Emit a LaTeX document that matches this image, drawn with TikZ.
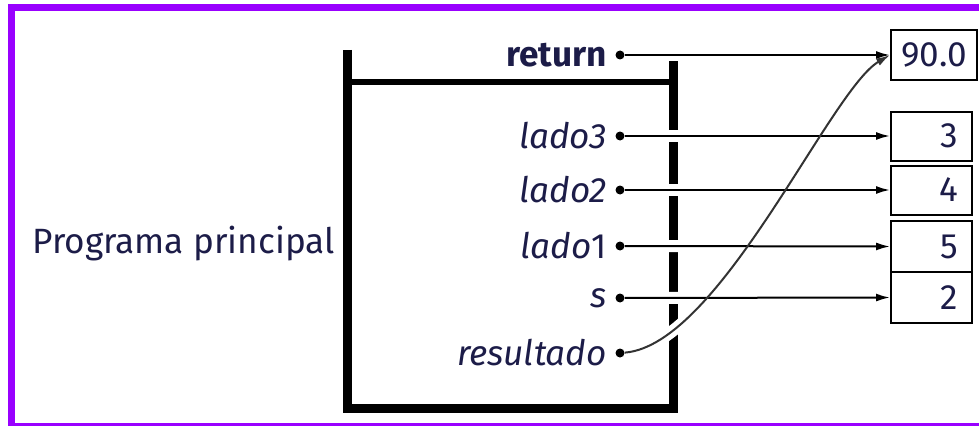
\documentclass[tikz,border=0pt]{standalone}
\usepackage{fontspec}
\setsansfont{Fira Sans}
\usetikzlibrary{arrows.meta,positioning}

\definecolor{ink}{RGB}{28,28,72}
\definecolor{violeta}{RGB}{153,0,255}

\tikzset{
  lbl/.style={text=ink, inner sep=0pt, font=\fontsize{20}{24}\selectfont\sffamily},
  pin/.style={circle, fill=black, inner sep=0pt, minimum size=1.8mm},
  cell/.style={draw, line width=0.4mm, text=ink, inner ysep=0pt, minimum height=9.8mm,
    font=\fontsize{20}{24}\selectfont\sffamily},
  num/.style={cell, text width=10.6mm, align=right, inner xsep=2.8mm},
  ptr/.style={line width=0.4mm, -{Latex[length=2.8mm,width=1.6mm]}},
  halo/.style={white, line width=2.4mm},
  bar/.style={line width=1.8mm, line join=miter}
}

\begin{document}
\begin{tikzpicture}[x=0.2mm,y=-0.2mm]
  \useasboundingbox (0,0) rectangle (979,425);
  \clip (0,0) rectangle (979,425);

  % frame
  \draw[violeta, line width=1.4mm] (11.5,7.5) rectangle (1000,426.5);

  \node[lbl, anchor=base east] (prog) at (335,253) {Programa principal};

  % stack frame of the call
  \draw[bar] (347,50) -- (347,408) -- (673,408) -- (673,49);
  \draw[line width=1.1mm] (347,82) -- (673,82);

  % variables
  \node[pin] (dret) at (620,55) {};
  \node[pin] (d3) at (620,136) {};
  \node[pin] (d2) at (620,190) {};
  \node[pin] (d1) at (620,246) {};
  \node[pin] (ds) at (620,298) {};
  \node[pin] (dres) at (620,353) {};

  \node[lbl, left=1.6mm of dret] (ret) {\bfseries return};
  \node[lbl, left=1.6mm of d3] (l3) {\itshape lado3};
  \node[lbl, left=1.6mm of d2] (l2) {\itshape lado2};
  \node[lbl, left=1.6mm of d1] (l1) {\textit{lado}1};
  \node[lbl, left=1.6mm of ds] (ls) {\itshape s};
  \node[lbl, left=1.6mm of dres] (lres) {\itshape resultado};

  % values
  \node[cell, minimum width=17.2mm, inner xsep=0.5mm] (v0) at (934,55) {90.0};
  \node[num] (v3) at (931.5,136) {3};
  \node[num] (v4) at (931.5,190) {4};
  \node[num, minimum height=10.2mm] (v5) at (931.5,246.5) {5};
  \node[num, minimum height=10.2mm] (v2) at (931.5,297.5) {2};

  % gaps where the pointers cross the bar
  \begin{scope}
    \clip (655,0) rectangle (691,425);
    \foreach \a/\b in {dret/v0, d3/v3, d2/v4, d1/v5, ds/v2}
      \draw[halo] (\a) -- (\b.west);
    \draw[halo] (dres) .. controls (720,345) and (830,90) .. (v0.west);
  \end{scope}

  % pointers
  \foreach \a/\b in {dret/v0, d3/v3, d2/v4, d1/v5, ds/v2}
    \draw[ptr] (\a) -- (\b.west);
  \draw[ptr, black!80] (dres) .. controls (720,345) and (830,90) .. (v0.west);
\end{tikzpicture}
\end{document}
